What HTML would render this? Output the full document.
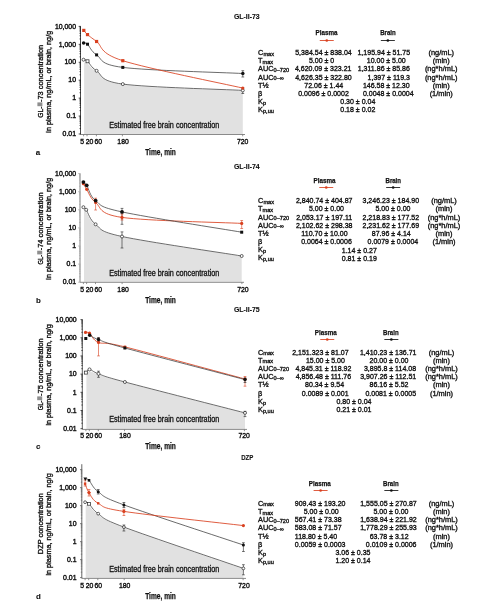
<!DOCTYPE html>
<html><head><meta charset="utf-8"><style>
html,body{margin:0;padding:0;background:#fff;}
body{width:496px;height:615px;overflow:hidden;}
svg{display:block;font-family:"Liberation Sans", sans-serif;will-change:transform;}
</style></head><body>
<svg width="496" height="615" viewBox="0 0 496 615">
<rect width="496" height="615" fill="#fff"/>
<path d="M84.10,62.70 C84.67,62.83 85.42,62.02 87.50,63.50 C89.58,64.98 90.72,68.07 96.60,71.60 C102.48,75.13 98.43,81.48 122.80,84.70 C147.17,87.92 222.80,89.87 242.80,90.90 L242.80,134.00 L84.10,134.00 Z" fill="#e1e1e1" stroke="none"/>
<line x1="80.50" y1="26.40" x2="80.50" y2="134.50" stroke="#4a4a4a" stroke-width="1.00"/>
<line x1="80.50" y1="134.50" x2="245.00" y2="134.50" stroke="#8a8a8a" stroke-width="1"/>
<line x1="78.70" y1="26.40" x2="80.90" y2="26.40" stroke="#1a1a1a" stroke-width="0.8"/>
<line x1="79.50" y1="38.93" x2="80.90" y2="38.93" stroke="#1a1a1a" stroke-width="0.7"/>
<line x1="79.50" y1="35.78" x2="80.90" y2="35.78" stroke="#1a1a1a" stroke-width="0.7"/>
<line x1="79.50" y1="33.54" x2="80.90" y2="33.54" stroke="#1a1a1a" stroke-width="0.7"/>
<line x1="79.50" y1="31.80" x2="80.90" y2="31.80" stroke="#1a1a1a" stroke-width="0.7"/>
<line x1="79.50" y1="30.38" x2="80.90" y2="30.38" stroke="#1a1a1a" stroke-width="0.7"/>
<line x1="79.50" y1="29.18" x2="80.90" y2="29.18" stroke="#1a1a1a" stroke-width="0.7"/>
<line x1="79.50" y1="28.14" x2="80.90" y2="28.14" stroke="#1a1a1a" stroke-width="0.7"/>
<line x1="79.50" y1="27.22" x2="80.90" y2="27.22" stroke="#1a1a1a" stroke-width="0.7"/>
<line x1="78.70" y1="44.33" x2="80.90" y2="44.33" stroke="#1a1a1a" stroke-width="0.8"/>
<line x1="79.50" y1="56.86" x2="80.90" y2="56.86" stroke="#1a1a1a" stroke-width="0.7"/>
<line x1="79.50" y1="53.71" x2="80.90" y2="53.71" stroke="#1a1a1a" stroke-width="0.7"/>
<line x1="79.50" y1="51.47" x2="80.90" y2="51.47" stroke="#1a1a1a" stroke-width="0.7"/>
<line x1="79.50" y1="49.73" x2="80.90" y2="49.73" stroke="#1a1a1a" stroke-width="0.7"/>
<line x1="79.50" y1="48.31" x2="80.90" y2="48.31" stroke="#1a1a1a" stroke-width="0.7"/>
<line x1="79.50" y1="47.11" x2="80.90" y2="47.11" stroke="#1a1a1a" stroke-width="0.7"/>
<line x1="79.50" y1="46.07" x2="80.90" y2="46.07" stroke="#1a1a1a" stroke-width="0.7"/>
<line x1="79.50" y1="45.15" x2="80.90" y2="45.15" stroke="#1a1a1a" stroke-width="0.7"/>
<line x1="78.70" y1="62.26" x2="80.90" y2="62.26" stroke="#1a1a1a" stroke-width="0.8"/>
<line x1="79.50" y1="74.79" x2="80.90" y2="74.79" stroke="#1a1a1a" stroke-width="0.7"/>
<line x1="79.50" y1="71.64" x2="80.90" y2="71.64" stroke="#1a1a1a" stroke-width="0.7"/>
<line x1="79.50" y1="69.40" x2="80.90" y2="69.40" stroke="#1a1a1a" stroke-width="0.7"/>
<line x1="79.50" y1="67.66" x2="80.90" y2="67.66" stroke="#1a1a1a" stroke-width="0.7"/>
<line x1="79.50" y1="66.24" x2="80.90" y2="66.24" stroke="#1a1a1a" stroke-width="0.7"/>
<line x1="79.50" y1="65.04" x2="80.90" y2="65.04" stroke="#1a1a1a" stroke-width="0.7"/>
<line x1="79.50" y1="64.00" x2="80.90" y2="64.00" stroke="#1a1a1a" stroke-width="0.7"/>
<line x1="79.50" y1="63.08" x2="80.90" y2="63.08" stroke="#1a1a1a" stroke-width="0.7"/>
<line x1="78.70" y1="80.19" x2="80.90" y2="80.19" stroke="#1a1a1a" stroke-width="0.8"/>
<line x1="79.50" y1="92.72" x2="80.90" y2="92.72" stroke="#1a1a1a" stroke-width="0.7"/>
<line x1="79.50" y1="89.57" x2="80.90" y2="89.57" stroke="#1a1a1a" stroke-width="0.7"/>
<line x1="79.50" y1="87.33" x2="80.90" y2="87.33" stroke="#1a1a1a" stroke-width="0.7"/>
<line x1="79.50" y1="85.59" x2="80.90" y2="85.59" stroke="#1a1a1a" stroke-width="0.7"/>
<line x1="79.50" y1="84.17" x2="80.90" y2="84.17" stroke="#1a1a1a" stroke-width="0.7"/>
<line x1="79.50" y1="82.97" x2="80.90" y2="82.97" stroke="#1a1a1a" stroke-width="0.7"/>
<line x1="79.50" y1="81.93" x2="80.90" y2="81.93" stroke="#1a1a1a" stroke-width="0.7"/>
<line x1="79.50" y1="81.01" x2="80.90" y2="81.01" stroke="#1a1a1a" stroke-width="0.7"/>
<line x1="78.70" y1="98.12" x2="80.90" y2="98.12" stroke="#1a1a1a" stroke-width="0.8"/>
<line x1="79.50" y1="110.65" x2="80.90" y2="110.65" stroke="#1a1a1a" stroke-width="0.7"/>
<line x1="79.50" y1="107.50" x2="80.90" y2="107.50" stroke="#1a1a1a" stroke-width="0.7"/>
<line x1="79.50" y1="105.26" x2="80.90" y2="105.26" stroke="#1a1a1a" stroke-width="0.7"/>
<line x1="79.50" y1="103.52" x2="80.90" y2="103.52" stroke="#1a1a1a" stroke-width="0.7"/>
<line x1="79.50" y1="102.10" x2="80.90" y2="102.10" stroke="#1a1a1a" stroke-width="0.7"/>
<line x1="79.50" y1="100.90" x2="80.90" y2="100.90" stroke="#1a1a1a" stroke-width="0.7"/>
<line x1="79.50" y1="99.86" x2="80.90" y2="99.86" stroke="#1a1a1a" stroke-width="0.7"/>
<line x1="79.50" y1="98.94" x2="80.90" y2="98.94" stroke="#1a1a1a" stroke-width="0.7"/>
<line x1="78.70" y1="116.05" x2="80.90" y2="116.05" stroke="#1a1a1a" stroke-width="0.8"/>
<line x1="79.50" y1="128.58" x2="80.90" y2="128.58" stroke="#1a1a1a" stroke-width="0.7"/>
<line x1="79.50" y1="125.43" x2="80.90" y2="125.43" stroke="#1a1a1a" stroke-width="0.7"/>
<line x1="79.50" y1="123.19" x2="80.90" y2="123.19" stroke="#1a1a1a" stroke-width="0.7"/>
<line x1="79.50" y1="121.45" x2="80.90" y2="121.45" stroke="#1a1a1a" stroke-width="0.7"/>
<line x1="79.50" y1="120.03" x2="80.90" y2="120.03" stroke="#1a1a1a" stroke-width="0.7"/>
<line x1="79.50" y1="118.83" x2="80.90" y2="118.83" stroke="#1a1a1a" stroke-width="0.7"/>
<line x1="79.50" y1="117.79" x2="80.90" y2="117.79" stroke="#1a1a1a" stroke-width="0.7"/>
<line x1="79.50" y1="116.87" x2="80.90" y2="116.87" stroke="#1a1a1a" stroke-width="0.7"/>
<line x1="78.70" y1="133.98" x2="80.90" y2="133.98" stroke="#1a1a1a" stroke-width="0.8"/>
<text x="76.00" y="28.60" font-size="6.90" text-anchor="end" font-weight="normal" fill="#111" stroke="#111" stroke-width="0.40" textLength="21.10" lengthAdjust="spacingAndGlyphs">10,000</text>
<text x="76.00" y="46.53" font-size="6.90" text-anchor="end" font-weight="normal" fill="#111" stroke="#111" stroke-width="0.40" textLength="17.27" lengthAdjust="spacingAndGlyphs">1,000</text>
<text x="76.00" y="64.46" font-size="6.90" text-anchor="end" font-weight="normal" fill="#111" stroke="#111" stroke-width="0.40" textLength="11.51" lengthAdjust="spacingAndGlyphs">100</text>
<text x="76.00" y="82.39" font-size="6.90" text-anchor="end" font-weight="normal" fill="#111" stroke="#111" stroke-width="0.40" textLength="7.67" lengthAdjust="spacingAndGlyphs">10</text>
<text x="76.00" y="100.32" font-size="6.90" text-anchor="end" font-weight="normal" fill="#111" stroke="#111" stroke-width="0.40" textLength="3.84" lengthAdjust="spacingAndGlyphs">1</text>
<text x="76.00" y="118.25" font-size="6.90" text-anchor="end" font-weight="normal" fill="#111" stroke="#111" stroke-width="0.40" textLength="9.59" lengthAdjust="spacingAndGlyphs">0.1</text>
<text x="76.00" y="136.18" font-size="6.90" text-anchor="end" font-weight="normal" fill="#111" stroke="#111" stroke-width="0.40" textLength="13.43" lengthAdjust="spacingAndGlyphs">0.01</text>
<line x1="83.60" y1="134.50" x2="83.60" y2="136.30" stroke="#777" stroke-width="0.8"/>
<line x1="87.00" y1="134.50" x2="87.00" y2="136.30" stroke="#777" stroke-width="0.8"/>
<line x1="96.40" y1="134.50" x2="96.40" y2="136.30" stroke="#777" stroke-width="0.8"/>
<line x1="122.40" y1="134.50" x2="122.40" y2="136.30" stroke="#777" stroke-width="0.8"/>
<line x1="242.70" y1="134.50" x2="242.70" y2="136.30" stroke="#777" stroke-width="0.8"/>
<text x="82.05" y="143.80" font-size="7.60" text-anchor="middle" font-weight="normal" fill="#111" stroke="#111" stroke-width="0.40" textLength="3.80" lengthAdjust="spacingAndGlyphs">5</text>
<text x="89.55" y="143.80" font-size="7.60" text-anchor="middle" font-weight="normal" fill="#111" stroke="#111" stroke-width="0.40" textLength="7.61" lengthAdjust="spacingAndGlyphs">20</text>
<text x="98.30" y="143.80" font-size="7.60" text-anchor="middle" font-weight="normal" fill="#111" stroke="#111" stroke-width="0.40" textLength="7.61" lengthAdjust="spacingAndGlyphs">60</text>
<text x="123.05" y="143.80" font-size="7.60" text-anchor="middle" font-weight="normal" fill="#111" stroke="#111" stroke-width="0.40" textLength="11.41" lengthAdjust="spacingAndGlyphs">180</text>
<text x="242.70" y="143.80" font-size="7.60" text-anchor="middle" font-weight="normal" fill="#111" stroke="#111" stroke-width="0.40" textLength="11.41" lengthAdjust="spacingAndGlyphs">720</text>
<path d="M83.50,59.70 C84.17,59.97 85.32,59.45 87.50,61.30 C89.68,63.15 90.72,67.00 96.60,70.80 C102.48,74.60 98.43,80.83 122.80,84.10 C147.17,87.37 222.80,89.35 242.80,90.40" fill="none" stroke="#3a3a3a" stroke-width="0.75"/>
<path d="M83.60,43.10 C84.25,43.28 85.33,42.23 87.50,44.20 C89.67,46.17 90.72,51.03 96.60,54.90 C102.48,58.77 98.43,64.30 122.80,67.40 C147.17,70.50 222.80,72.48 242.80,73.50" fill="none" stroke="#3a3a3a" stroke-width="0.75"/>
<path d="M83.80,30.40 C84.42,31.10 85.37,32.75 87.50,34.60 C89.63,36.45 90.72,37.15 96.60,41.50 C102.48,45.85 98.43,52.93 122.80,60.70 C147.17,68.47 222.80,83.53 242.80,88.10" fill="none" stroke="#d9401f" stroke-width="0.85"/>
<path d="M242.80,70.70 V77.00 M241.40,70.70 H244.20 M241.40,77.00 H244.20" stroke="#222" stroke-width="0.6" fill="none"/>
<path d="M242.80,88.00 V93.50 M241.40,88.00 H244.20 M241.40,93.50 H244.20" stroke="#222" stroke-width="0.6" fill="none"/>
<circle cx="83.50" cy="59.70" r="1.50" fill="#fff" stroke="#222" stroke-width="0.7"/>
<rect x="86.00" y="59.80" width="3.00" height="3.00" fill="#fff" stroke="#222" stroke-width="0.7"/>
<circle cx="96.60" cy="70.80" r="1.50" fill="#fff" stroke="#222" stroke-width="0.7"/>
<circle cx="122.80" cy="84.10" r="1.50" fill="#fff" stroke="#222" stroke-width="0.7"/>
<circle cx="242.80" cy="90.40" r="1.50" fill="#fff" stroke="#222" stroke-width="0.7"/>
<circle cx="83.60" cy="43.10" r="1.75" fill="#111"/>
<rect x="86.00" y="42.70" width="3.00" height="3.00" fill="#111"/>
<rect x="95.10" y="53.40" width="3.00" height="3.00" fill="#111"/>
<rect x="121.30" y="65.90" width="3.00" height="3.00" fill="#111"/>
<circle cx="242.80" cy="73.50" r="1.75" fill="#111"/>
<rect x="82.20" y="28.80" width="3.20" height="3.20" fill="#d9401f"/>
<rect x="85.90" y="33.00" width="3.20" height="3.20" fill="#d9401f"/>
<rect x="95.00" y="39.90" width="3.20" height="3.20" fill="#d9401f"/>
<rect x="121.20" y="59.10" width="3.20" height="3.20" fill="#d9401f"/>
<circle cx="242.80" cy="88.10" r="1.60" fill="#d9401f"/>
<text x="109.20" y="127.80" font-size="8.40" text-anchor="start" font-weight="normal" fill="#111" stroke="#111" stroke-width="0.30" textLength="110.10" lengthAdjust="spacingAndGlyphs">Estimated free brain concentration</text>
<text x="145.20" y="154.90" font-size="8.50" text-anchor="start" font-weight="bold" fill="#111" stroke="#111" stroke-width="0.25" textLength="30.70" lengthAdjust="spacingAndGlyphs">Time, min</text>
<text x="35.80" y="154.60" font-size="7.90" text-anchor="start" font-weight="bold" fill="#111" stroke="#111" stroke-width="0.10">a</text>
<text x="233.90" y="19.30" font-size="7.60" text-anchor="start" font-weight="bold" fill="#111" stroke="#111" stroke-width="0.12" textLength="25.80" lengthAdjust="spacingAndGlyphs">GL-II-73</text>
<text transform="translate(43.10,117.80) rotate(-90)" font-size="7.80" fill="#111" stroke="#111" stroke-width="0.35" textLength="11.20" lengthAdjust="spacingAndGlyphs">GL-</text>
<rect x="37.40" y="102.40" width="5.00" height="3.80" fill="#8e8e8e"/>
<text transform="translate(43.10,102.00) rotate(-90)" font-size="7.80" fill="#111" stroke="#111" stroke-width="0.35" textLength="57.20" lengthAdjust="spacingAndGlyphs">-73 concentration</text>
<text transform="translate(50.70,132.70) rotate(-90)" font-size="7.80" fill="#111" stroke="#111" stroke-width="0.35" textLength="101.90" lengthAdjust="spacingAndGlyphs">in plasma, ng/mL, or brain, ng/g</text>
<text x="258.10" y="55.00" font-size="7.35" text-anchor="start" font-weight="normal" fill="#111" stroke="#111" stroke-width="0.34">C<tspan font-size="5.60" dy="0.50">max</tspan></text>
<text x="258.10" y="63.20" font-size="7.35" text-anchor="start" font-weight="normal" fill="#111" stroke="#111" stroke-width="0.34">T<tspan font-size="5.60" dy="0.50">max</tspan></text>
<text x="258.10" y="71.40" font-size="7.35" text-anchor="start" font-weight="normal" fill="#111" stroke="#111" stroke-width="0.34">AUC<tspan font-size="5.60" dy="0.50">0–720</tspan></text>
<text x="258.10" y="79.60" font-size="7.35" text-anchor="start" font-weight="normal" fill="#111" stroke="#111" stroke-width="0.34">AUC<tspan font-size="5.60" dy="0.50">0–∞</tspan></text>
<text x="258.10" y="87.80" font-size="7.35" text-anchor="start" font-weight="normal" fill="#111" stroke="#111" stroke-width="0.34">T½</text>
<text x="258.10" y="96.00" font-size="7.35" text-anchor="start" font-weight="normal" fill="#111" stroke="#111" stroke-width="0.34">β</text>
<text x="258.10" y="104.20" font-size="7.35" text-anchor="start" font-weight="normal" fill="#111" stroke="#111" stroke-width="0.34">K<tspan font-size="5.60" dy="0.90">p</tspan></text>
<text x="258.10" y="112.40" font-size="7.35" text-anchor="start" font-weight="normal" fill="#111" stroke="#111" stroke-width="0.34">K<tspan font-size="5.60" dy="0.90">p,uu</tspan></text>
<text x="323.50" y="55.00" font-size="7.35" text-anchor="middle" font-weight="normal" fill="#111" stroke="#111" stroke-width="0.34" textLength="56.54" lengthAdjust="spacingAndGlyphs">5,384.54 ± 838.04</text>
<text x="321.60" y="63.20" font-size="7.35" text-anchor="middle" font-weight="normal" fill="#111" stroke="#111" stroke-width="0.34" textLength="25.32" lengthAdjust="spacingAndGlyphs">5.00 ± 0</text>
<text x="323.20" y="71.40" font-size="7.35" text-anchor="middle" font-weight="normal" fill="#111" stroke="#111" stroke-width="0.34" textLength="56.54" lengthAdjust="spacingAndGlyphs">4,620.09 ± 323.21</text>
<text x="323.50" y="79.60" font-size="7.35" text-anchor="middle" font-weight="normal" fill="#111" stroke="#111" stroke-width="0.34" textLength="56.54" lengthAdjust="spacingAndGlyphs">4,626.35 ± 322.80</text>
<text x="323.80" y="87.80" font-size="7.35" text-anchor="middle" font-weight="normal" fill="#111" stroke="#111" stroke-width="0.34" textLength="38.98" lengthAdjust="spacingAndGlyphs">72.06 ± 1.44</text>
<text x="323.50" y="96.00" font-size="7.35" text-anchor="middle" font-weight="normal" fill="#111" stroke="#111" stroke-width="0.34" textLength="50.69" lengthAdjust="spacingAndGlyphs">0.0096 ± 0.0002</text>
<text x="383.80" y="55.00" font-size="7.35" text-anchor="middle" font-weight="normal" fill="#111" stroke="#111" stroke-width="0.34" textLength="52.64" lengthAdjust="spacingAndGlyphs">1,195.94 ± 51.75</text>
<text x="386.30" y="63.20" font-size="7.35" text-anchor="middle" font-weight="normal" fill="#111" stroke="#111" stroke-width="0.34" textLength="38.98" lengthAdjust="spacingAndGlyphs">10.00 ± 5.00</text>
<text x="383.80" y="71.40" font-size="7.35" text-anchor="middle" font-weight="normal" fill="#111" stroke="#111" stroke-width="0.34" textLength="52.12" lengthAdjust="spacingAndGlyphs">1,311.86 ± 85.86</text>
<text x="388.80" y="79.60" font-size="7.35" text-anchor="middle" font-weight="normal" fill="#111" stroke="#111" stroke-width="0.34" textLength="42.36" lengthAdjust="spacingAndGlyphs">1,397 ± 119.3</text>
<text x="386.30" y="87.80" font-size="7.35" text-anchor="middle" font-weight="normal" fill="#111" stroke="#111" stroke-width="0.34" textLength="46.79" lengthAdjust="spacingAndGlyphs">146.58 ± 12.30</text>
<text x="388.30" y="96.00" font-size="7.35" text-anchor="middle" font-weight="normal" fill="#111" stroke="#111" stroke-width="0.34" textLength="50.69" lengthAdjust="spacingAndGlyphs">0.0048 ± 0.0004</text>
<text x="441.20" y="55.00" font-size="7.35" text-anchor="middle" font-weight="normal" fill="#111" stroke="#111" stroke-width="0.34" textLength="25.58" lengthAdjust="spacingAndGlyphs">(ng/mL)</text>
<text x="441.20" y="63.20" font-size="7.35" text-anchor="middle" font-weight="normal" fill="#111" stroke="#111" stroke-width="0.34" textLength="16.91" lengthAdjust="spacingAndGlyphs">(min)</text>
<text x="441.20" y="71.40" font-size="7.35" text-anchor="middle" font-weight="normal" fill="#111" stroke="#111" stroke-width="0.34" textLength="32.59" lengthAdjust="spacingAndGlyphs">(ng*h/mL)</text>
<text x="441.20" y="79.60" font-size="7.35" text-anchor="middle" font-weight="normal" fill="#111" stroke="#111" stroke-width="0.34" textLength="32.59" lengthAdjust="spacingAndGlyphs">(ng*h/mL)</text>
<text x="441.20" y="87.80" font-size="7.35" text-anchor="middle" font-weight="normal" fill="#111" stroke="#111" stroke-width="0.34" textLength="16.91" lengthAdjust="spacingAndGlyphs">(min)</text>
<text x="441.20" y="96.00" font-size="7.35" text-anchor="middle" font-weight="normal" fill="#111" stroke="#111" stroke-width="0.34" textLength="23.10" lengthAdjust="spacingAndGlyphs">(1/min)</text>
<text x="357.80" y="104.20" font-size="7.35" text-anchor="middle" font-weight="normal" fill="#111" stroke="#111" stroke-width="0.34" textLength="35.08" lengthAdjust="spacingAndGlyphs">0.30 ± 0.04</text>
<text x="357.80" y="112.40" font-size="7.35" text-anchor="middle" font-weight="normal" fill="#111" stroke="#111" stroke-width="0.34" textLength="35.08" lengthAdjust="spacingAndGlyphs">0.18 ± 0.02</text>
<text x="326.60" y="35.10" font-size="7.30" text-anchor="middle" font-weight="bold" fill="#111" stroke="#111" stroke-width="0.25" textLength="22.00" lengthAdjust="spacingAndGlyphs">Plasma</text>
<text x="387.95" y="35.10" font-size="7.30" text-anchor="middle" font-weight="bold" fill="#111" stroke="#111" stroke-width="0.25" textLength="15.50" lengthAdjust="spacingAndGlyphs">Brain</text>
<line x1="319.75" y1="40.50" x2="333.75" y2="40.50" stroke="#d9401f" stroke-width="0.85"/>
<circle cx="326.75" cy="40.50" r="1.3" fill="#d9401f"/>
<line x1="380.85" y1="40.50" x2="394.85" y2="40.50" stroke="#111" stroke-width="0.85"/>
<circle cx="387.85" cy="40.50" r="1.3" fill="#111"/>
<path d="M84.00,210.20 C84.37,210.50 84.27,209.52 86.20,212.00 C88.13,214.48 89.63,220.92 95.60,225.10 C101.57,229.28 97.65,231.87 122.00,237.10 C146.35,242.33 221.75,253.27 241.70,256.50 L241.70,281.80 L84.00,281.80 Z" fill="#e1e1e1" stroke="none"/>
<line x1="80.00" y1="173.60" x2="80.00" y2="282.30" stroke="#a8a8a8" stroke-width="1.40"/>
<line x1="80.00" y1="282.30" x2="244.00" y2="282.30" stroke="#8a8a8a" stroke-width="1"/>
<line x1="78.20" y1="173.60" x2="80.40" y2="173.60" stroke="#a8a8a8" stroke-width="0.8"/>
<line x1="79.00" y1="186.25" x2="80.40" y2="186.25" stroke="#a8a8a8" stroke-width="0.7"/>
<line x1="79.00" y1="183.06" x2="80.40" y2="183.06" stroke="#a8a8a8" stroke-width="0.7"/>
<line x1="79.00" y1="180.80" x2="80.40" y2="180.80" stroke="#a8a8a8" stroke-width="0.7"/>
<line x1="79.00" y1="179.05" x2="80.40" y2="179.05" stroke="#a8a8a8" stroke-width="0.7"/>
<line x1="79.00" y1="177.62" x2="80.40" y2="177.62" stroke="#a8a8a8" stroke-width="0.7"/>
<line x1="79.00" y1="176.40" x2="80.40" y2="176.40" stroke="#a8a8a8" stroke-width="0.7"/>
<line x1="79.00" y1="175.35" x2="80.40" y2="175.35" stroke="#a8a8a8" stroke-width="0.7"/>
<line x1="79.00" y1="174.43" x2="80.40" y2="174.43" stroke="#a8a8a8" stroke-width="0.7"/>
<line x1="78.20" y1="191.70" x2="80.40" y2="191.70" stroke="#a8a8a8" stroke-width="0.8"/>
<line x1="79.00" y1="204.35" x2="80.40" y2="204.35" stroke="#a8a8a8" stroke-width="0.7"/>
<line x1="79.00" y1="201.16" x2="80.40" y2="201.16" stroke="#a8a8a8" stroke-width="0.7"/>
<line x1="79.00" y1="198.90" x2="80.40" y2="198.90" stroke="#a8a8a8" stroke-width="0.7"/>
<line x1="79.00" y1="197.15" x2="80.40" y2="197.15" stroke="#a8a8a8" stroke-width="0.7"/>
<line x1="79.00" y1="195.72" x2="80.40" y2="195.72" stroke="#a8a8a8" stroke-width="0.7"/>
<line x1="79.00" y1="194.50" x2="80.40" y2="194.50" stroke="#a8a8a8" stroke-width="0.7"/>
<line x1="79.00" y1="193.45" x2="80.40" y2="193.45" stroke="#a8a8a8" stroke-width="0.7"/>
<line x1="79.00" y1="192.53" x2="80.40" y2="192.53" stroke="#a8a8a8" stroke-width="0.7"/>
<line x1="78.20" y1="209.80" x2="80.40" y2="209.80" stroke="#a8a8a8" stroke-width="0.8"/>
<line x1="79.00" y1="222.45" x2="80.40" y2="222.45" stroke="#a8a8a8" stroke-width="0.7"/>
<line x1="79.00" y1="219.26" x2="80.40" y2="219.26" stroke="#a8a8a8" stroke-width="0.7"/>
<line x1="79.00" y1="217.00" x2="80.40" y2="217.00" stroke="#a8a8a8" stroke-width="0.7"/>
<line x1="79.00" y1="215.25" x2="80.40" y2="215.25" stroke="#a8a8a8" stroke-width="0.7"/>
<line x1="79.00" y1="213.82" x2="80.40" y2="213.82" stroke="#a8a8a8" stroke-width="0.7"/>
<line x1="79.00" y1="212.60" x2="80.40" y2="212.60" stroke="#a8a8a8" stroke-width="0.7"/>
<line x1="79.00" y1="211.55" x2="80.40" y2="211.55" stroke="#a8a8a8" stroke-width="0.7"/>
<line x1="79.00" y1="210.63" x2="80.40" y2="210.63" stroke="#a8a8a8" stroke-width="0.7"/>
<line x1="78.20" y1="227.90" x2="80.40" y2="227.90" stroke="#a8a8a8" stroke-width="0.8"/>
<line x1="79.00" y1="240.55" x2="80.40" y2="240.55" stroke="#a8a8a8" stroke-width="0.7"/>
<line x1="79.00" y1="237.36" x2="80.40" y2="237.36" stroke="#a8a8a8" stroke-width="0.7"/>
<line x1="79.00" y1="235.10" x2="80.40" y2="235.10" stroke="#a8a8a8" stroke-width="0.7"/>
<line x1="79.00" y1="233.35" x2="80.40" y2="233.35" stroke="#a8a8a8" stroke-width="0.7"/>
<line x1="79.00" y1="231.92" x2="80.40" y2="231.92" stroke="#a8a8a8" stroke-width="0.7"/>
<line x1="79.00" y1="230.70" x2="80.40" y2="230.70" stroke="#a8a8a8" stroke-width="0.7"/>
<line x1="79.00" y1="229.65" x2="80.40" y2="229.65" stroke="#a8a8a8" stroke-width="0.7"/>
<line x1="79.00" y1="228.73" x2="80.40" y2="228.73" stroke="#a8a8a8" stroke-width="0.7"/>
<line x1="78.20" y1="246.00" x2="80.40" y2="246.00" stroke="#a8a8a8" stroke-width="0.8"/>
<line x1="79.00" y1="258.65" x2="80.40" y2="258.65" stroke="#a8a8a8" stroke-width="0.7"/>
<line x1="79.00" y1="255.46" x2="80.40" y2="255.46" stroke="#a8a8a8" stroke-width="0.7"/>
<line x1="79.00" y1="253.20" x2="80.40" y2="253.20" stroke="#a8a8a8" stroke-width="0.7"/>
<line x1="79.00" y1="251.45" x2="80.40" y2="251.45" stroke="#a8a8a8" stroke-width="0.7"/>
<line x1="79.00" y1="250.02" x2="80.40" y2="250.02" stroke="#a8a8a8" stroke-width="0.7"/>
<line x1="79.00" y1="248.80" x2="80.40" y2="248.80" stroke="#a8a8a8" stroke-width="0.7"/>
<line x1="79.00" y1="247.75" x2="80.40" y2="247.75" stroke="#a8a8a8" stroke-width="0.7"/>
<line x1="79.00" y1="246.83" x2="80.40" y2="246.83" stroke="#a8a8a8" stroke-width="0.7"/>
<line x1="78.20" y1="264.10" x2="80.40" y2="264.10" stroke="#a8a8a8" stroke-width="0.8"/>
<line x1="79.00" y1="276.75" x2="80.40" y2="276.75" stroke="#a8a8a8" stroke-width="0.7"/>
<line x1="79.00" y1="273.56" x2="80.40" y2="273.56" stroke="#a8a8a8" stroke-width="0.7"/>
<line x1="79.00" y1="271.30" x2="80.40" y2="271.30" stroke="#a8a8a8" stroke-width="0.7"/>
<line x1="79.00" y1="269.55" x2="80.40" y2="269.55" stroke="#a8a8a8" stroke-width="0.7"/>
<line x1="79.00" y1="268.12" x2="80.40" y2="268.12" stroke="#a8a8a8" stroke-width="0.7"/>
<line x1="79.00" y1="266.90" x2="80.40" y2="266.90" stroke="#a8a8a8" stroke-width="0.7"/>
<line x1="79.00" y1="265.85" x2="80.40" y2="265.85" stroke="#a8a8a8" stroke-width="0.7"/>
<line x1="79.00" y1="264.93" x2="80.40" y2="264.93" stroke="#a8a8a8" stroke-width="0.7"/>
<line x1="78.20" y1="282.20" x2="80.40" y2="282.20" stroke="#a8a8a8" stroke-width="0.8"/>
<text x="76.20" y="175.80" font-size="6.90" text-anchor="end" font-weight="normal" fill="#111" stroke="#111" stroke-width="0.40" textLength="21.10" lengthAdjust="spacingAndGlyphs">10,000</text>
<text x="76.20" y="193.90" font-size="6.90" text-anchor="end" font-weight="normal" fill="#111" stroke="#111" stroke-width="0.40" textLength="17.27" lengthAdjust="spacingAndGlyphs">1,000</text>
<text x="76.20" y="212.00" font-size="6.90" text-anchor="end" font-weight="normal" fill="#111" stroke="#111" stroke-width="0.40" textLength="11.51" lengthAdjust="spacingAndGlyphs">100</text>
<text x="76.20" y="230.10" font-size="6.90" text-anchor="end" font-weight="normal" fill="#111" stroke="#111" stroke-width="0.40" textLength="7.67" lengthAdjust="spacingAndGlyphs">10</text>
<text x="76.20" y="248.20" font-size="6.90" text-anchor="end" font-weight="normal" fill="#111" stroke="#111" stroke-width="0.40" textLength="3.84" lengthAdjust="spacingAndGlyphs">1</text>
<text x="76.20" y="266.30" font-size="6.90" text-anchor="end" font-weight="normal" fill="#111" stroke="#111" stroke-width="0.40" textLength="9.59" lengthAdjust="spacingAndGlyphs">0.1</text>
<text x="76.20" y="284.40" font-size="6.90" text-anchor="end" font-weight="normal" fill="#111" stroke="#111" stroke-width="0.40" textLength="13.43" lengthAdjust="spacingAndGlyphs">0.01</text>
<line x1="83.40" y1="282.30" x2="83.40" y2="284.10" stroke="#777" stroke-width="0.8"/>
<line x1="86.60" y1="282.30" x2="86.60" y2="284.10" stroke="#777" stroke-width="0.8"/>
<line x1="95.50" y1="282.30" x2="95.50" y2="284.10" stroke="#777" stroke-width="0.8"/>
<line x1="122.10" y1="282.30" x2="122.10" y2="284.10" stroke="#777" stroke-width="0.8"/>
<line x1="241.90" y1="282.30" x2="241.90" y2="284.10" stroke="#777" stroke-width="0.8"/>
<text x="82.05" y="291.50" font-size="7.60" text-anchor="middle" font-weight="normal" fill="#111" stroke="#111" stroke-width="0.40" textLength="3.80" lengthAdjust="spacingAndGlyphs">5</text>
<text x="89.55" y="291.50" font-size="7.60" text-anchor="middle" font-weight="normal" fill="#111" stroke="#111" stroke-width="0.40" textLength="7.61" lengthAdjust="spacingAndGlyphs">20</text>
<text x="98.30" y="291.50" font-size="7.60" text-anchor="middle" font-weight="normal" fill="#111" stroke="#111" stroke-width="0.40" textLength="7.61" lengthAdjust="spacingAndGlyphs">60</text>
<text x="123.05" y="291.50" font-size="7.60" text-anchor="middle" font-weight="normal" fill="#111" stroke="#111" stroke-width="0.40" textLength="11.41" lengthAdjust="spacingAndGlyphs">180</text>
<text x="242.90" y="291.50" font-size="7.60" text-anchor="middle" font-weight="normal" fill="#111" stroke="#111" stroke-width="0.40" textLength="11.41" lengthAdjust="spacingAndGlyphs">720</text>
<path d="M83.40,207.20 C83.87,207.63 84.17,206.95 86.20,209.80 C88.23,212.65 89.63,219.85 95.60,224.30 C101.57,228.75 97.65,231.22 122.00,236.50 C146.35,241.78 221.75,252.75 241.70,256.00" fill="none" stroke="#3a3a3a" stroke-width="0.75"/>
<path d="M83.40,183.70 C83.95,184.63 84.67,186.17 86.70,189.30 C88.73,192.43 89.72,197.82 95.60,202.50 C101.48,207.18 97.65,213.92 122.00,217.40 C146.35,220.88 221.75,222.40 241.70,223.40" fill="none" stroke="#d9401f" stroke-width="0.85"/>
<path d="M83.40,182.10 C83.95,182.63 84.67,182.22 86.70,185.30 C88.73,188.38 89.72,196.17 95.60,200.60 C101.48,205.03 97.65,206.63 122.00,211.90 C146.35,217.17 221.75,228.82 241.70,232.20" fill="none" stroke="#3a3a3a" stroke-width="0.75"/>
<path d="M95.60,198.20 V210.00 M94.20,198.20 H97.00 M94.20,210.00 H97.00" stroke="#d9401f" stroke-width="0.6" fill="none"/>
<path d="M122.00,208.40 V224.30 M120.60,208.40 H123.40 M120.60,224.30 H123.40" stroke="#222" stroke-width="0.6" fill="none"/>
<path d="M122.00,214.00 V220.00 M120.60,214.00 H123.40 M120.60,220.00 H123.40" stroke="#d9401f" stroke-width="0.6" fill="none"/>
<path d="M122.00,231.90 V248.00 M120.60,231.90 H123.40 M120.60,248.00 H123.40" stroke="#222" stroke-width="0.6" fill="none"/>
<path d="M241.70,220.50 V228.50 M240.30,220.50 H243.10 M240.30,228.50 H243.10" stroke="#d9401f" stroke-width="0.6" fill="none"/>
<circle cx="83.40" cy="207.20" r="1.50" fill="#fff" stroke="#222" stroke-width="0.7"/>
<circle cx="86.20" cy="209.80" r="1.50" fill="#fff" stroke="#222" stroke-width="0.7"/>
<circle cx="95.60" cy="224.30" r="1.50" fill="#fff" stroke="#222" stroke-width="0.7"/>
<circle cx="122.00" cy="236.50" r="1.50" fill="#fff" stroke="#222" stroke-width="0.7"/>
<circle cx="241.70" cy="256.00" r="1.50" fill="#fff" stroke="#222" stroke-width="0.7"/>
<circle cx="83.40" cy="183.70" r="1.60" fill="#d9401f"/>
<circle cx="86.70" cy="189.30" r="1.60" fill="#d9401f"/>
<circle cx="95.60" cy="202.50" r="1.60" fill="#d9401f"/>
<circle cx="122.00" cy="217.40" r="1.60" fill="#d9401f"/>
<circle cx="241.70" cy="223.40" r="1.60" fill="#d9401f"/>
<circle cx="83.40" cy="182.10" r="1.90" fill="#111"/>
<circle cx="86.70" cy="185.30" r="1.90" fill="#111"/>
<circle cx="95.60" cy="200.60" r="1.90" fill="#111"/>
<circle cx="122.00" cy="211.90" r="1.90" fill="#111"/>
<rect x="240.20" y="230.70" width="3.00" height="3.00" fill="#111"/>
<text x="109.20" y="275.80" font-size="8.40" text-anchor="start" font-weight="normal" fill="#111" stroke="#111" stroke-width="0.30" textLength="110.10" lengthAdjust="spacingAndGlyphs">Estimated free brain concentration</text>
<text x="145.20" y="302.90" font-size="8.50" text-anchor="start" font-weight="bold" fill="#111" stroke="#111" stroke-width="0.25" textLength="30.70" lengthAdjust="spacingAndGlyphs">Time, min</text>
<text x="35.90" y="302.70" font-size="7.90" text-anchor="start" font-weight="bold" fill="#111" stroke="#111" stroke-width="0.10">b</text>
<text x="233.90" y="169.30" font-size="7.60" text-anchor="start" font-weight="bold" fill="#111" stroke="#111" stroke-width="0.12" textLength="25.80" lengthAdjust="spacingAndGlyphs">GL-II-74</text>
<text transform="translate(42.90,264.50) rotate(-90)" font-size="7.80" fill="#111" stroke="#111" stroke-width="0.35" textLength="9.70" lengthAdjust="spacingAndGlyphs">GL-</text>
<rect x="37.20" y="250.70" width="5.00" height="3.70" fill="#8e8e8e"/>
<text transform="translate(42.90,250.30) rotate(-90)" font-size="7.80" fill="#111" stroke="#111" stroke-width="0.35" textLength="57.90" lengthAdjust="spacingAndGlyphs">-74 concentration</text>
<text transform="translate(50.80,279.70) rotate(-90)" font-size="7.80" fill="#111" stroke="#111" stroke-width="0.35" textLength="101.90" lengthAdjust="spacingAndGlyphs">in plasma, ng/mL, or brain, ng/g</text>
<text x="258.10" y="203.30" font-size="7.35" text-anchor="start" font-weight="normal" fill="#111" stroke="#111" stroke-width="0.34">C<tspan font-size="5.60" dy="0.50">max</tspan></text>
<text x="258.10" y="211.40" font-size="7.35" text-anchor="start" font-weight="normal" fill="#111" stroke="#111" stroke-width="0.34">T<tspan font-size="5.60" dy="0.50">max</tspan></text>
<text x="258.10" y="219.50" font-size="7.35" text-anchor="start" font-weight="normal" fill="#111" stroke="#111" stroke-width="0.34">AUC<tspan font-size="5.60" dy="0.50">0–720</tspan></text>
<text x="258.10" y="227.60" font-size="7.35" text-anchor="start" font-weight="normal" fill="#111" stroke="#111" stroke-width="0.34">AUC<tspan font-size="5.60" dy="0.50">0–∞</tspan></text>
<text x="258.10" y="235.70" font-size="7.35" text-anchor="start" font-weight="normal" fill="#111" stroke="#111" stroke-width="0.34">T½</text>
<text x="258.10" y="243.80" font-size="7.35" text-anchor="start" font-weight="normal" fill="#111" stroke="#111" stroke-width="0.34">β</text>
<text x="258.10" y="251.90" font-size="7.35" text-anchor="start" font-weight="normal" fill="#111" stroke="#111" stroke-width="0.34">K<tspan font-size="5.60" dy="0.90">p</tspan></text>
<text x="258.10" y="260.00" font-size="7.35" text-anchor="start" font-weight="normal" fill="#111" stroke="#111" stroke-width="0.34">K<tspan font-size="5.60" dy="0.90">p,uu</tspan></text>
<text x="324.20" y="203.30" font-size="7.35" text-anchor="middle" font-weight="normal" fill="#111" stroke="#111" stroke-width="0.34" textLength="56.54" lengthAdjust="spacingAndGlyphs">2,840.74 ± 404.87</text>
<text x="326.50" y="211.40" font-size="7.35" text-anchor="middle" font-weight="normal" fill="#111" stroke="#111" stroke-width="0.34" textLength="35.08" lengthAdjust="spacingAndGlyphs">5.00 ± 0.00</text>
<text x="324.20" y="219.50" font-size="7.35" text-anchor="middle" font-weight="normal" fill="#111" stroke="#111" stroke-width="0.34" textLength="56.02" lengthAdjust="spacingAndGlyphs">2,053.17 ± 197.11</text>
<text x="324.20" y="227.60" font-size="7.35" text-anchor="middle" font-weight="normal" fill="#111" stroke="#111" stroke-width="0.34" textLength="56.54" lengthAdjust="spacingAndGlyphs">2,102.62 ± 298.38</text>
<text x="324.50" y="235.70" font-size="7.35" text-anchor="middle" font-weight="normal" fill="#111" stroke="#111" stroke-width="0.34" textLength="46.27" lengthAdjust="spacingAndGlyphs">110.70 ± 10.00</text>
<text x="326.50" y="243.80" font-size="7.35" text-anchor="middle" font-weight="normal" fill="#111" stroke="#111" stroke-width="0.34" textLength="50.69" lengthAdjust="spacingAndGlyphs">0.0064 ± 0.0006</text>
<text x="390.80" y="203.30" font-size="7.35" text-anchor="middle" font-weight="normal" fill="#111" stroke="#111" stroke-width="0.34" textLength="56.54" lengthAdjust="spacingAndGlyphs">3,246.23 ± 184.90</text>
<text x="393.00" y="211.40" font-size="7.35" text-anchor="middle" font-weight="normal" fill="#111" stroke="#111" stroke-width="0.34" textLength="35.08" lengthAdjust="spacingAndGlyphs">5.00 ± 0.00</text>
<text x="390.80" y="219.50" font-size="7.35" text-anchor="middle" font-weight="normal" fill="#111" stroke="#111" stroke-width="0.34" textLength="56.54" lengthAdjust="spacingAndGlyphs">2,218.83 ± 177.52</text>
<text x="390.80" y="227.60" font-size="7.35" text-anchor="middle" font-weight="normal" fill="#111" stroke="#111" stroke-width="0.34" textLength="56.54" lengthAdjust="spacingAndGlyphs">2,231.62 ± 177.69</text>
<text x="391.30" y="235.70" font-size="7.35" text-anchor="middle" font-weight="normal" fill="#111" stroke="#111" stroke-width="0.34" textLength="38.98" lengthAdjust="spacingAndGlyphs">87.96 ± 4.14</text>
<text x="392.90" y="243.80" font-size="7.35" text-anchor="middle" font-weight="normal" fill="#111" stroke="#111" stroke-width="0.34" textLength="50.69" lengthAdjust="spacingAndGlyphs">0.0079 ± 0.0004</text>
<text x="444.00" y="203.30" font-size="7.35" text-anchor="middle" font-weight="normal" fill="#111" stroke="#111" stroke-width="0.34" textLength="25.58" lengthAdjust="spacingAndGlyphs">(ng/mL)</text>
<text x="444.00" y="211.40" font-size="7.35" text-anchor="middle" font-weight="normal" fill="#111" stroke="#111" stroke-width="0.34" textLength="16.91" lengthAdjust="spacingAndGlyphs">(min)</text>
<text x="444.00" y="219.50" font-size="7.35" text-anchor="middle" font-weight="normal" fill="#111" stroke="#111" stroke-width="0.34" textLength="32.59" lengthAdjust="spacingAndGlyphs">(ng*h/mL)</text>
<text x="444.00" y="227.60" font-size="7.35" text-anchor="middle" font-weight="normal" fill="#111" stroke="#111" stroke-width="0.34" textLength="32.59" lengthAdjust="spacingAndGlyphs">(ng*h/mL)</text>
<text x="444.00" y="235.70" font-size="7.35" text-anchor="middle" font-weight="normal" fill="#111" stroke="#111" stroke-width="0.34" textLength="16.91" lengthAdjust="spacingAndGlyphs">(min)</text>
<text x="444.00" y="243.80" font-size="7.35" text-anchor="middle" font-weight="normal" fill="#111" stroke="#111" stroke-width="0.34" textLength="23.10" lengthAdjust="spacingAndGlyphs">(1/min)</text>
<text x="359.30" y="252.80" font-size="7.35" text-anchor="middle" font-weight="normal" fill="#111" stroke="#111" stroke-width="0.34" textLength="35.08" lengthAdjust="spacingAndGlyphs">1.14 ± 0.27</text>
<text x="359.30" y="260.50" font-size="7.35" text-anchor="middle" font-weight="normal" fill="#111" stroke="#111" stroke-width="0.34" textLength="35.08" lengthAdjust="spacingAndGlyphs">0.81 ± 0.19</text>
<text x="324.55" y="182.90" font-size="7.30" text-anchor="middle" font-weight="bold" fill="#111" stroke="#111" stroke-width="0.25" textLength="22.00" lengthAdjust="spacingAndGlyphs">Plasma</text>
<text x="393.25" y="182.90" font-size="7.30" text-anchor="middle" font-weight="bold" fill="#111" stroke="#111" stroke-width="0.25" textLength="15.50" lengthAdjust="spacingAndGlyphs">Brain</text>
<line x1="319.25" y1="187.50" x2="333.25" y2="187.50" stroke="#d9401f" stroke-width="0.85"/>
<circle cx="326.25" cy="187.50" r="1.3" fill="#d9401f"/>
<line x1="386.15" y1="187.50" x2="400.15" y2="187.50" stroke="#111" stroke-width="0.85"/>
<circle cx="393.15" cy="187.50" r="1.3" fill="#111"/>
<path d="M86.40,375.60 C86.92,374.93 87.48,371.77 89.50,371.60 C91.52,371.43 92.60,372.77 98.50,374.60 C104.40,376.43 100.48,376.13 124.90,382.60 C149.32,389.07 224.98,408.27 245.00,413.40 L245.00,428.90 L86.40,428.90 Z" fill="#e1e1e1" stroke="none"/>
<line x1="82.30" y1="319.60" x2="82.30" y2="429.40" stroke="#5a5a5a" stroke-width="1.00"/>
<line x1="82.30" y1="429.40" x2="247.00" y2="429.40" stroke="#8a8a8a" stroke-width="1"/>
<line x1="80.50" y1="319.60" x2="82.70" y2="319.60" stroke="#222" stroke-width="0.8"/>
<line x1="81.30" y1="332.31" x2="82.70" y2="332.31" stroke="#222" stroke-width="0.7"/>
<line x1="81.30" y1="329.11" x2="82.70" y2="329.11" stroke="#222" stroke-width="0.7"/>
<line x1="81.30" y1="326.83" x2="82.70" y2="326.83" stroke="#222" stroke-width="0.7"/>
<line x1="81.30" y1="325.07" x2="82.70" y2="325.07" stroke="#222" stroke-width="0.7"/>
<line x1="81.30" y1="323.63" x2="82.70" y2="323.63" stroke="#222" stroke-width="0.7"/>
<line x1="81.30" y1="322.42" x2="82.70" y2="322.42" stroke="#222" stroke-width="0.7"/>
<line x1="81.30" y1="321.36" x2="82.70" y2="321.36" stroke="#222" stroke-width="0.7"/>
<line x1="81.30" y1="320.43" x2="82.70" y2="320.43" stroke="#222" stroke-width="0.7"/>
<line x1="80.50" y1="337.78" x2="82.70" y2="337.78" stroke="#222" stroke-width="0.8"/>
<line x1="81.30" y1="350.49" x2="82.70" y2="350.49" stroke="#222" stroke-width="0.7"/>
<line x1="81.30" y1="347.29" x2="82.70" y2="347.29" stroke="#222" stroke-width="0.7"/>
<line x1="81.30" y1="345.01" x2="82.70" y2="345.01" stroke="#222" stroke-width="0.7"/>
<line x1="81.30" y1="343.25" x2="82.70" y2="343.25" stroke="#222" stroke-width="0.7"/>
<line x1="81.30" y1="341.81" x2="82.70" y2="341.81" stroke="#222" stroke-width="0.7"/>
<line x1="81.30" y1="340.60" x2="82.70" y2="340.60" stroke="#222" stroke-width="0.7"/>
<line x1="81.30" y1="339.54" x2="82.70" y2="339.54" stroke="#222" stroke-width="0.7"/>
<line x1="81.30" y1="338.61" x2="82.70" y2="338.61" stroke="#222" stroke-width="0.7"/>
<line x1="80.50" y1="355.96" x2="82.70" y2="355.96" stroke="#222" stroke-width="0.8"/>
<line x1="81.30" y1="368.67" x2="82.70" y2="368.67" stroke="#222" stroke-width="0.7"/>
<line x1="81.30" y1="365.47" x2="82.70" y2="365.47" stroke="#222" stroke-width="0.7"/>
<line x1="81.30" y1="363.19" x2="82.70" y2="363.19" stroke="#222" stroke-width="0.7"/>
<line x1="81.30" y1="361.43" x2="82.70" y2="361.43" stroke="#222" stroke-width="0.7"/>
<line x1="81.30" y1="359.99" x2="82.70" y2="359.99" stroke="#222" stroke-width="0.7"/>
<line x1="81.30" y1="358.78" x2="82.70" y2="358.78" stroke="#222" stroke-width="0.7"/>
<line x1="81.30" y1="357.72" x2="82.70" y2="357.72" stroke="#222" stroke-width="0.7"/>
<line x1="81.30" y1="356.79" x2="82.70" y2="356.79" stroke="#222" stroke-width="0.7"/>
<line x1="80.50" y1="374.14" x2="82.70" y2="374.14" stroke="#222" stroke-width="0.8"/>
<line x1="81.30" y1="386.85" x2="82.70" y2="386.85" stroke="#222" stroke-width="0.7"/>
<line x1="81.30" y1="383.65" x2="82.70" y2="383.65" stroke="#222" stroke-width="0.7"/>
<line x1="81.30" y1="381.37" x2="82.70" y2="381.37" stroke="#222" stroke-width="0.7"/>
<line x1="81.30" y1="379.61" x2="82.70" y2="379.61" stroke="#222" stroke-width="0.7"/>
<line x1="81.30" y1="378.17" x2="82.70" y2="378.17" stroke="#222" stroke-width="0.7"/>
<line x1="81.30" y1="376.96" x2="82.70" y2="376.96" stroke="#222" stroke-width="0.7"/>
<line x1="81.30" y1="375.90" x2="82.70" y2="375.90" stroke="#222" stroke-width="0.7"/>
<line x1="81.30" y1="374.97" x2="82.70" y2="374.97" stroke="#222" stroke-width="0.7"/>
<line x1="80.50" y1="392.32" x2="82.70" y2="392.32" stroke="#222" stroke-width="0.8"/>
<line x1="81.30" y1="405.03" x2="82.70" y2="405.03" stroke="#222" stroke-width="0.7"/>
<line x1="81.30" y1="401.83" x2="82.70" y2="401.83" stroke="#222" stroke-width="0.7"/>
<line x1="81.30" y1="399.55" x2="82.70" y2="399.55" stroke="#222" stroke-width="0.7"/>
<line x1="81.30" y1="397.79" x2="82.70" y2="397.79" stroke="#222" stroke-width="0.7"/>
<line x1="81.30" y1="396.35" x2="82.70" y2="396.35" stroke="#222" stroke-width="0.7"/>
<line x1="81.30" y1="395.14" x2="82.70" y2="395.14" stroke="#222" stroke-width="0.7"/>
<line x1="81.30" y1="394.08" x2="82.70" y2="394.08" stroke="#222" stroke-width="0.7"/>
<line x1="81.30" y1="393.15" x2="82.70" y2="393.15" stroke="#222" stroke-width="0.7"/>
<line x1="80.50" y1="410.50" x2="82.70" y2="410.50" stroke="#222" stroke-width="0.8"/>
<line x1="81.30" y1="423.21" x2="82.70" y2="423.21" stroke="#222" stroke-width="0.7"/>
<line x1="81.30" y1="420.01" x2="82.70" y2="420.01" stroke="#222" stroke-width="0.7"/>
<line x1="81.30" y1="417.73" x2="82.70" y2="417.73" stroke="#222" stroke-width="0.7"/>
<line x1="81.30" y1="415.97" x2="82.70" y2="415.97" stroke="#222" stroke-width="0.7"/>
<line x1="81.30" y1="414.53" x2="82.70" y2="414.53" stroke="#222" stroke-width="0.7"/>
<line x1="81.30" y1="413.32" x2="82.70" y2="413.32" stroke="#222" stroke-width="0.7"/>
<line x1="81.30" y1="412.26" x2="82.70" y2="412.26" stroke="#222" stroke-width="0.7"/>
<line x1="81.30" y1="411.33" x2="82.70" y2="411.33" stroke="#222" stroke-width="0.7"/>
<line x1="80.50" y1="428.68" x2="82.70" y2="428.68" stroke="#222" stroke-width="0.8"/>
<text x="76.70" y="321.80" font-size="6.90" text-anchor="end" font-weight="normal" fill="#111" stroke="#111" stroke-width="0.40" textLength="21.10" lengthAdjust="spacingAndGlyphs">10,000</text>
<text x="76.70" y="339.98" font-size="6.90" text-anchor="end" font-weight="normal" fill="#111" stroke="#111" stroke-width="0.40" textLength="17.27" lengthAdjust="spacingAndGlyphs">1,000</text>
<text x="76.70" y="358.16" font-size="6.90" text-anchor="end" font-weight="normal" fill="#111" stroke="#111" stroke-width="0.40" textLength="11.51" lengthAdjust="spacingAndGlyphs">100</text>
<text x="76.70" y="376.34" font-size="6.90" text-anchor="end" font-weight="normal" fill="#111" stroke="#111" stroke-width="0.40" textLength="7.67" lengthAdjust="spacingAndGlyphs">10</text>
<text x="76.70" y="394.52" font-size="6.90" text-anchor="end" font-weight="normal" fill="#111" stroke="#111" stroke-width="0.40" textLength="3.84" lengthAdjust="spacingAndGlyphs">1</text>
<text x="76.70" y="412.70" font-size="6.90" text-anchor="end" font-weight="normal" fill="#111" stroke="#111" stroke-width="0.40" textLength="9.59" lengthAdjust="spacingAndGlyphs">0.1</text>
<text x="76.70" y="430.88" font-size="6.90" text-anchor="end" font-weight="normal" fill="#111" stroke="#111" stroke-width="0.40" textLength="13.43" lengthAdjust="spacingAndGlyphs">0.01</text>
<line x1="85.90" y1="429.40" x2="85.90" y2="431.20" stroke="#777" stroke-width="0.8"/>
<line x1="89.30" y1="429.40" x2="89.30" y2="431.20" stroke="#777" stroke-width="0.8"/>
<line x1="98.30" y1="429.40" x2="98.30" y2="431.20" stroke="#777" stroke-width="0.8"/>
<line x1="124.50" y1="429.40" x2="124.50" y2="431.20" stroke="#777" stroke-width="0.8"/>
<line x1="244.40" y1="429.40" x2="244.40" y2="431.20" stroke="#777" stroke-width="0.8"/>
<text x="82.05" y="437.60" font-size="7.60" text-anchor="middle" font-weight="normal" fill="#111" stroke="#111" stroke-width="0.40" textLength="3.80" lengthAdjust="spacingAndGlyphs">5</text>
<text x="89.55" y="437.60" font-size="7.60" text-anchor="middle" font-weight="normal" fill="#111" stroke="#111" stroke-width="0.40" textLength="7.61" lengthAdjust="spacingAndGlyphs">20</text>
<text x="98.30" y="437.60" font-size="7.60" text-anchor="middle" font-weight="normal" fill="#111" stroke="#111" stroke-width="0.40" textLength="7.61" lengthAdjust="spacingAndGlyphs">60</text>
<text x="125.00" y="437.60" font-size="7.60" text-anchor="middle" font-weight="normal" fill="#111" stroke="#111" stroke-width="0.40" textLength="11.41" lengthAdjust="spacingAndGlyphs">180</text>
<text x="244.20" y="437.60" font-size="7.60" text-anchor="middle" font-weight="normal" fill="#111" stroke="#111" stroke-width="0.40" textLength="11.41" lengthAdjust="spacingAndGlyphs">720</text>
<path d="M85.80,372.60 C86.42,372.07 87.38,369.20 89.50,369.40 C91.62,369.60 92.60,371.70 98.50,373.80 C104.40,375.90 100.48,375.48 124.90,382.00 C149.32,388.52 224.98,407.75 245.00,412.90" fill="none" stroke="#3a3a3a" stroke-width="0.75"/>
<path d="M85.50,332.40 C86.17,332.53 87.33,331.53 89.50,333.20 C91.67,334.87 92.60,340.12 98.50,342.40 C104.40,344.68 100.48,340.80 124.90,346.90 C149.32,353.00 224.98,373.65 245.00,379.00" fill="none" stroke="#d9401f" stroke-width="0.85"/>
<path d="M89.70,335.30 C91.17,336.02 92.63,337.48 98.50,339.60 C104.37,341.72 100.48,341.33 124.90,348.00 C149.32,354.67 224.98,374.33 245.00,379.60" fill="none" stroke="#3a3a3a" stroke-width="0.75"/>
<path d="M98.50,338.20 V355.90 M97.10,338.20 H99.90 M97.10,355.90 H99.90" stroke="#d9401f" stroke-width="0.6" fill="none"/>
<path d="M98.50,337.50 V341.40 M97.10,337.50 H99.90 M97.10,341.40 H99.90" stroke="#222" stroke-width="0.6" fill="none"/>
<path d="M98.50,371.20 V377.30 M97.10,371.20 H99.90 M97.10,377.30 H99.90" stroke="#222" stroke-width="0.6" fill="none"/>
<path d="M245.00,376.50 V386.20 M243.60,376.50 H246.40 M243.60,386.20 H246.40" stroke="#d9401f" stroke-width="0.6" fill="none"/>
<path d="M245.00,378.00 V382.50 M243.60,378.00 H246.40 M243.60,382.50 H246.40" stroke="#222" stroke-width="0.6" fill="none"/>
<path d="M245.00,411.30 V416.60 M243.60,411.30 H246.40 M243.60,416.60 H246.40" stroke="#222" stroke-width="0.6" fill="none"/>
<rect x="84.30" y="371.10" width="3.00" height="3.00" fill="#fff" stroke="#222" stroke-width="0.7"/>
<circle cx="89.50" cy="369.40" r="1.50" fill="#fff" stroke="#222" stroke-width="0.7"/>
<circle cx="98.50" cy="373.80" r="1.50" fill="#fff" stroke="#222" stroke-width="0.7"/>
<circle cx="124.90" cy="382.00" r="1.50" fill="#fff" stroke="#222" stroke-width="0.7"/>
<circle cx="245.00" cy="412.90" r="1.50" fill="#fff" stroke="#222" stroke-width="0.7"/>
<circle cx="85.50" cy="332.40" r="1.60" fill="#d9401f"/>
<circle cx="89.50" cy="333.20" r="1.60" fill="#d9401f"/>
<circle cx="98.50" cy="342.40" r="1.60" fill="#d9401f"/>
<rect x="123.60" y="345.60" width="2.60" height="2.60" fill="#d9401f"/>
<circle cx="245.00" cy="379.00" r="1.60" fill="#d9401f"/>
<rect x="84.30" y="337.00" width="3.00" height="3.00" fill="#111"/>
<circle cx="89.70" cy="335.30" r="1.75" fill="#111"/>
<circle cx="98.50" cy="339.60" r="1.75" fill="#111"/>
<rect x="123.40" y="346.50" width="3.00" height="3.00" fill="#111"/>
<circle cx="245.00" cy="379.60" r="1.75" fill="#111"/>
<text x="109.20" y="421.60" font-size="8.40" text-anchor="start" font-weight="normal" fill="#111" stroke="#111" stroke-width="0.30" textLength="110.10" lengthAdjust="spacingAndGlyphs">Estimated free brain concentration</text>
<text x="145.20" y="448.70" font-size="8.50" text-anchor="start" font-weight="bold" fill="#111" stroke="#111" stroke-width="0.25" textLength="30.70" lengthAdjust="spacingAndGlyphs">Time, min</text>
<text x="35.90" y="448.80" font-size="7.90" text-anchor="start" font-weight="bold" fill="#111" stroke="#111" stroke-width="0.10">c</text>
<text x="233.90" y="311.90" font-size="7.60" text-anchor="start" font-weight="bold" fill="#111" stroke="#111" stroke-width="0.12" textLength="25.80" lengthAdjust="spacingAndGlyphs">GL-II-75</text>
<text transform="translate(42.90,410.20) rotate(-90)" font-size="7.80" fill="#111" stroke="#111" stroke-width="0.35" textLength="9.60" lengthAdjust="spacingAndGlyphs">GL-</text>
<rect x="37.20" y="396.40" width="5.00" height="3.80" fill="#8e8e8e"/>
<text transform="translate(42.90,396.00) rotate(-90)" font-size="7.80" fill="#111" stroke="#111" stroke-width="0.35" textLength="57.60" lengthAdjust="spacingAndGlyphs">-75 concentration</text>
<text transform="translate(51.00,425.60) rotate(-90)" font-size="7.80" fill="#111" stroke="#111" stroke-width="0.35" textLength="101.30" lengthAdjust="spacingAndGlyphs">in plasma, ng/mL, or brain, ng/g</text>
<text x="258.00" y="354.50" font-size="7.35" text-anchor="start" font-weight="normal" fill="#111" stroke="#111" stroke-width="0.34">C<tspan font-size="5.60" dy="0.50">max</tspan></text>
<text x="258.00" y="362.70" font-size="7.35" text-anchor="start" font-weight="normal" fill="#111" stroke="#111" stroke-width="0.34">T<tspan font-size="5.60" dy="0.50">max</tspan></text>
<text x="258.00" y="370.90" font-size="7.35" text-anchor="start" font-weight="normal" fill="#111" stroke="#111" stroke-width="0.34">AUC<tspan font-size="5.60" dy="0.50">0–720</tspan></text>
<text x="258.00" y="379.10" font-size="7.35" text-anchor="start" font-weight="normal" fill="#111" stroke="#111" stroke-width="0.34">AUC<tspan font-size="5.60" dy="0.50">0–∞</tspan></text>
<text x="258.00" y="387.30" font-size="7.35" text-anchor="start" font-weight="normal" fill="#111" stroke="#111" stroke-width="0.34">T½</text>
<text x="258.00" y="395.50" font-size="7.35" text-anchor="start" font-weight="normal" fill="#111" stroke="#111" stroke-width="0.34">β</text>
<text x="258.00" y="403.70" font-size="7.35" text-anchor="start" font-weight="normal" fill="#111" stroke="#111" stroke-width="0.34">K<tspan font-size="5.60" dy="0.90">p</tspan></text>
<text x="258.00" y="411.90" font-size="7.35" text-anchor="start" font-weight="normal" fill="#111" stroke="#111" stroke-width="0.34">K<tspan font-size="5.60" dy="0.90">p,uu</tspan></text>
<text x="320.40" y="354.50" font-size="7.35" text-anchor="middle" font-weight="normal" fill="#111" stroke="#111" stroke-width="0.34" textLength="56.54" lengthAdjust="spacingAndGlyphs">2,151.323 ± 81.07</text>
<text x="325.40" y="362.70" font-size="7.35" text-anchor="middle" font-weight="normal" fill="#111" stroke="#111" stroke-width="0.34" textLength="38.98" lengthAdjust="spacingAndGlyphs">15.00 ± 5.00</text>
<text x="323.40" y="370.90" font-size="7.35" text-anchor="middle" font-weight="normal" fill="#111" stroke="#111" stroke-width="0.34" textLength="56.02" lengthAdjust="spacingAndGlyphs">4,845.31 ± 118.92</text>
<text x="323.40" y="379.10" font-size="7.35" text-anchor="middle" font-weight="normal" fill="#111" stroke="#111" stroke-width="0.34" textLength="55.50" lengthAdjust="spacingAndGlyphs">4,856.48 ± 111.76</text>
<text x="324.60" y="387.30" font-size="7.35" text-anchor="middle" font-weight="normal" fill="#111" stroke="#111" stroke-width="0.34" textLength="38.98" lengthAdjust="spacingAndGlyphs">80.34 ± 9.54</text>
<text x="325.20" y="395.50" font-size="7.35" text-anchor="middle" font-weight="normal" fill="#111" stroke="#111" stroke-width="0.34" textLength="46.79" lengthAdjust="spacingAndGlyphs">0.0089 ± 0.001</text>
<text x="388.20" y="354.50" font-size="7.35" text-anchor="middle" font-weight="normal" fill="#111" stroke="#111" stroke-width="0.34" textLength="56.54" lengthAdjust="spacingAndGlyphs">1,410.23 ± 136.71</text>
<text x="389.00" y="362.70" font-size="7.35" text-anchor="middle" font-weight="normal" fill="#111" stroke="#111" stroke-width="0.34" textLength="38.98" lengthAdjust="spacingAndGlyphs">20.00 ± 0.00</text>
<text x="390.00" y="370.90" font-size="7.35" text-anchor="middle" font-weight="normal" fill="#111" stroke="#111" stroke-width="0.34" textLength="52.12" lengthAdjust="spacingAndGlyphs">3,895.8 ± 114.08</text>
<text x="388.20" y="379.10" font-size="7.35" text-anchor="middle" font-weight="normal" fill="#111" stroke="#111" stroke-width="0.34" textLength="56.02" lengthAdjust="spacingAndGlyphs">3,907.26 ± 112.51</text>
<text x="389.00" y="387.30" font-size="7.35" text-anchor="middle" font-weight="normal" fill="#111" stroke="#111" stroke-width="0.34" textLength="38.98" lengthAdjust="spacingAndGlyphs">86.16 ± 5.52</text>
<text x="390.80" y="395.50" font-size="7.35" text-anchor="middle" font-weight="normal" fill="#111" stroke="#111" stroke-width="0.34" textLength="50.69" lengthAdjust="spacingAndGlyphs">0.0081 ± 0.0005</text>
<text x="441.50" y="354.50" font-size="7.35" text-anchor="middle" font-weight="normal" fill="#111" stroke="#111" stroke-width="0.34" textLength="25.58" lengthAdjust="spacingAndGlyphs">(ng/mL)</text>
<text x="441.50" y="362.70" font-size="7.35" text-anchor="middle" font-weight="normal" fill="#111" stroke="#111" stroke-width="0.34" textLength="16.91" lengthAdjust="spacingAndGlyphs">(min)</text>
<text x="441.50" y="370.90" font-size="7.35" text-anchor="middle" font-weight="normal" fill="#111" stroke="#111" stroke-width="0.34" textLength="32.59" lengthAdjust="spacingAndGlyphs">(ng*h/mL)</text>
<text x="441.50" y="379.10" font-size="7.35" text-anchor="middle" font-weight="normal" fill="#111" stroke="#111" stroke-width="0.34" textLength="32.59" lengthAdjust="spacingAndGlyphs">(ng*h/mL)</text>
<text x="441.50" y="387.30" font-size="7.35" text-anchor="middle" font-weight="normal" fill="#111" stroke="#111" stroke-width="0.34" textLength="16.91" lengthAdjust="spacingAndGlyphs">(min)</text>
<text x="441.50" y="395.50" font-size="7.35" text-anchor="middle" font-weight="normal" fill="#111" stroke="#111" stroke-width="0.34" textLength="23.10" lengthAdjust="spacingAndGlyphs">(1/min)</text>
<text x="354.00" y="403.70" font-size="7.35" text-anchor="middle" font-weight="normal" fill="#111" stroke="#111" stroke-width="0.34" textLength="35.08" lengthAdjust="spacingAndGlyphs">0.80 ± 0.04</text>
<text x="354.00" y="411.90" font-size="7.35" text-anchor="middle" font-weight="normal" fill="#111" stroke="#111" stroke-width="0.34" textLength="35.08" lengthAdjust="spacingAndGlyphs">0.21 ± 0.01</text>
<text x="325.80" y="334.70" font-size="7.30" text-anchor="middle" font-weight="bold" fill="#111" stroke="#111" stroke-width="0.25" textLength="22.00" lengthAdjust="spacingAndGlyphs">Plasma</text>
<text x="390.85" y="334.70" font-size="7.30" text-anchor="middle" font-weight="bold" fill="#111" stroke="#111" stroke-width="0.25" textLength="15.50" lengthAdjust="spacingAndGlyphs">Brain</text>
<line x1="320.25" y1="339.50" x2="334.25" y2="339.50" stroke="#d9401f" stroke-width="0.85"/>
<circle cx="327.25" cy="339.50" r="1.3" fill="#d9401f"/>
<line x1="384.35" y1="339.50" x2="398.35" y2="339.50" stroke="#111" stroke-width="0.85"/>
<circle cx="391.35" cy="339.50" r="1.3" fill="#111"/>
<path d="M85.70,505.20 C86.25,505.33 86.92,504.45 89.00,506.00 C91.08,507.55 92.38,510.88 98.20,514.50 C104.02,518.12 99.70,518.63 123.90,527.70 C148.10,536.77 223.48,562.03 243.40,568.90 L243.40,577.90 L85.70,577.90 Z" fill="#e1e1e1" stroke="none"/>
<line x1="81.80" y1="464.20" x2="81.80" y2="578.40" stroke="#666" stroke-width="1.00"/>
<line x1="81.80" y1="578.40" x2="246.00" y2="578.40" stroke="#8a8a8a" stroke-width="1"/>
<line x1="80.00" y1="469.60" x2="82.20" y2="469.60" stroke="#666" stroke-width="0.8"/>
<line x1="80.80" y1="482.18" x2="82.20" y2="482.18" stroke="#666" stroke-width="0.7"/>
<line x1="80.80" y1="479.01" x2="82.20" y2="479.01" stroke="#666" stroke-width="0.7"/>
<line x1="80.80" y1="476.76" x2="82.20" y2="476.76" stroke="#666" stroke-width="0.7"/>
<line x1="80.80" y1="475.02" x2="82.20" y2="475.02" stroke="#666" stroke-width="0.7"/>
<line x1="80.80" y1="473.59" x2="82.20" y2="473.59" stroke="#666" stroke-width="0.7"/>
<line x1="80.80" y1="472.39" x2="82.20" y2="472.39" stroke="#666" stroke-width="0.7"/>
<line x1="80.80" y1="471.34" x2="82.20" y2="471.34" stroke="#666" stroke-width="0.7"/>
<line x1="80.80" y1="470.42" x2="82.20" y2="470.42" stroke="#666" stroke-width="0.7"/>
<line x1="80.00" y1="487.60" x2="82.20" y2="487.60" stroke="#666" stroke-width="0.8"/>
<line x1="80.80" y1="500.18" x2="82.20" y2="500.18" stroke="#666" stroke-width="0.7"/>
<line x1="80.80" y1="497.01" x2="82.20" y2="497.01" stroke="#666" stroke-width="0.7"/>
<line x1="80.80" y1="494.76" x2="82.20" y2="494.76" stroke="#666" stroke-width="0.7"/>
<line x1="80.80" y1="493.02" x2="82.20" y2="493.02" stroke="#666" stroke-width="0.7"/>
<line x1="80.80" y1="491.59" x2="82.20" y2="491.59" stroke="#666" stroke-width="0.7"/>
<line x1="80.80" y1="490.39" x2="82.20" y2="490.39" stroke="#666" stroke-width="0.7"/>
<line x1="80.80" y1="489.34" x2="82.20" y2="489.34" stroke="#666" stroke-width="0.7"/>
<line x1="80.80" y1="488.42" x2="82.20" y2="488.42" stroke="#666" stroke-width="0.7"/>
<line x1="80.00" y1="505.60" x2="82.20" y2="505.60" stroke="#666" stroke-width="0.8"/>
<line x1="80.80" y1="518.18" x2="82.20" y2="518.18" stroke="#666" stroke-width="0.7"/>
<line x1="80.80" y1="515.01" x2="82.20" y2="515.01" stroke="#666" stroke-width="0.7"/>
<line x1="80.80" y1="512.76" x2="82.20" y2="512.76" stroke="#666" stroke-width="0.7"/>
<line x1="80.80" y1="511.02" x2="82.20" y2="511.02" stroke="#666" stroke-width="0.7"/>
<line x1="80.80" y1="509.59" x2="82.20" y2="509.59" stroke="#666" stroke-width="0.7"/>
<line x1="80.80" y1="508.39" x2="82.20" y2="508.39" stroke="#666" stroke-width="0.7"/>
<line x1="80.80" y1="507.34" x2="82.20" y2="507.34" stroke="#666" stroke-width="0.7"/>
<line x1="80.80" y1="506.42" x2="82.20" y2="506.42" stroke="#666" stroke-width="0.7"/>
<line x1="80.00" y1="523.60" x2="82.20" y2="523.60" stroke="#666" stroke-width="0.8"/>
<line x1="80.80" y1="536.18" x2="82.20" y2="536.18" stroke="#666" stroke-width="0.7"/>
<line x1="80.80" y1="533.01" x2="82.20" y2="533.01" stroke="#666" stroke-width="0.7"/>
<line x1="80.80" y1="530.76" x2="82.20" y2="530.76" stroke="#666" stroke-width="0.7"/>
<line x1="80.80" y1="529.02" x2="82.20" y2="529.02" stroke="#666" stroke-width="0.7"/>
<line x1="80.80" y1="527.59" x2="82.20" y2="527.59" stroke="#666" stroke-width="0.7"/>
<line x1="80.80" y1="526.39" x2="82.20" y2="526.39" stroke="#666" stroke-width="0.7"/>
<line x1="80.80" y1="525.34" x2="82.20" y2="525.34" stroke="#666" stroke-width="0.7"/>
<line x1="80.80" y1="524.42" x2="82.20" y2="524.42" stroke="#666" stroke-width="0.7"/>
<line x1="80.00" y1="541.60" x2="82.20" y2="541.60" stroke="#666" stroke-width="0.8"/>
<line x1="80.80" y1="554.18" x2="82.20" y2="554.18" stroke="#666" stroke-width="0.7"/>
<line x1="80.80" y1="551.01" x2="82.20" y2="551.01" stroke="#666" stroke-width="0.7"/>
<line x1="80.80" y1="548.76" x2="82.20" y2="548.76" stroke="#666" stroke-width="0.7"/>
<line x1="80.80" y1="547.02" x2="82.20" y2="547.02" stroke="#666" stroke-width="0.7"/>
<line x1="80.80" y1="545.59" x2="82.20" y2="545.59" stroke="#666" stroke-width="0.7"/>
<line x1="80.80" y1="544.39" x2="82.20" y2="544.39" stroke="#666" stroke-width="0.7"/>
<line x1="80.80" y1="543.34" x2="82.20" y2="543.34" stroke="#666" stroke-width="0.7"/>
<line x1="80.80" y1="542.42" x2="82.20" y2="542.42" stroke="#666" stroke-width="0.7"/>
<line x1="80.00" y1="559.60" x2="82.20" y2="559.60" stroke="#666" stroke-width="0.8"/>
<line x1="80.80" y1="572.18" x2="82.20" y2="572.18" stroke="#666" stroke-width="0.7"/>
<line x1="80.80" y1="569.01" x2="82.20" y2="569.01" stroke="#666" stroke-width="0.7"/>
<line x1="80.80" y1="566.76" x2="82.20" y2="566.76" stroke="#666" stroke-width="0.7"/>
<line x1="80.80" y1="565.02" x2="82.20" y2="565.02" stroke="#666" stroke-width="0.7"/>
<line x1="80.80" y1="563.59" x2="82.20" y2="563.59" stroke="#666" stroke-width="0.7"/>
<line x1="80.80" y1="562.39" x2="82.20" y2="562.39" stroke="#666" stroke-width="0.7"/>
<line x1="80.80" y1="561.34" x2="82.20" y2="561.34" stroke="#666" stroke-width="0.7"/>
<line x1="80.80" y1="560.42" x2="82.20" y2="560.42" stroke="#666" stroke-width="0.7"/>
<line x1="80.00" y1="577.60" x2="82.20" y2="577.60" stroke="#666" stroke-width="0.8"/>
<text x="76.50" y="471.80" font-size="6.90" text-anchor="end" font-weight="normal" fill="#111" stroke="#111" stroke-width="0.40" textLength="21.10" lengthAdjust="spacingAndGlyphs">10,000</text>
<text x="76.50" y="489.80" font-size="6.90" text-anchor="end" font-weight="normal" fill="#111" stroke="#111" stroke-width="0.40" textLength="17.27" lengthAdjust="spacingAndGlyphs">1,000</text>
<text x="76.50" y="507.80" font-size="6.90" text-anchor="end" font-weight="normal" fill="#111" stroke="#111" stroke-width="0.40" textLength="11.51" lengthAdjust="spacingAndGlyphs">100</text>
<text x="76.50" y="525.80" font-size="6.90" text-anchor="end" font-weight="normal" fill="#111" stroke="#111" stroke-width="0.40" textLength="7.67" lengthAdjust="spacingAndGlyphs">10</text>
<text x="76.50" y="543.80" font-size="6.90" text-anchor="end" font-weight="normal" fill="#111" stroke="#111" stroke-width="0.40" textLength="3.84" lengthAdjust="spacingAndGlyphs">1</text>
<text x="76.50" y="561.80" font-size="6.90" text-anchor="end" font-weight="normal" fill="#111" stroke="#111" stroke-width="0.40" textLength="9.59" lengthAdjust="spacingAndGlyphs">0.1</text>
<text x="76.50" y="579.80" font-size="6.90" text-anchor="end" font-weight="normal" fill="#111" stroke="#111" stroke-width="0.40" textLength="13.43" lengthAdjust="spacingAndGlyphs">0.01</text>
<line x1="85.10" y1="578.40" x2="85.10" y2="580.20" stroke="#777" stroke-width="0.8"/>
<line x1="88.70" y1="578.40" x2="88.70" y2="580.20" stroke="#777" stroke-width="0.8"/>
<line x1="97.80" y1="578.40" x2="97.80" y2="580.20" stroke="#777" stroke-width="0.8"/>
<line x1="124.20" y1="578.40" x2="124.20" y2="580.20" stroke="#777" stroke-width="0.8"/>
<line x1="243.10" y1="578.40" x2="243.10" y2="580.20" stroke="#777" stroke-width="0.8"/>
<text x="82.05" y="587.50" font-size="7.60" text-anchor="middle" font-weight="normal" fill="#111" stroke="#111" stroke-width="0.40" textLength="3.80" lengthAdjust="spacingAndGlyphs">5</text>
<text x="89.55" y="587.50" font-size="7.60" text-anchor="middle" font-weight="normal" fill="#111" stroke="#111" stroke-width="0.40" textLength="7.61" lengthAdjust="spacingAndGlyphs">20</text>
<text x="98.30" y="587.50" font-size="7.60" text-anchor="middle" font-weight="normal" fill="#111" stroke="#111" stroke-width="0.40" textLength="7.61" lengthAdjust="spacingAndGlyphs">60</text>
<text x="124.70" y="587.50" font-size="7.60" text-anchor="middle" font-weight="normal" fill="#111" stroke="#111" stroke-width="0.40" textLength="11.41" lengthAdjust="spacingAndGlyphs">180</text>
<text x="244.00" y="587.50" font-size="7.60" text-anchor="middle" font-weight="normal" fill="#111" stroke="#111" stroke-width="0.40" textLength="11.41" lengthAdjust="spacingAndGlyphs">720</text>
<path d="M85.10,502.20 C85.75,502.47 86.82,501.88 89.00,503.80 C91.18,505.72 92.38,509.82 98.20,513.70 C104.02,517.58 99.70,517.98 123.90,527.10 C148.10,536.22 223.48,561.52 243.40,568.40" fill="none" stroke="#3a3a3a" stroke-width="0.75"/>
<path d="M85.30,479.00 C85.92,479.22 86.85,478.18 89.00,480.30 C91.15,482.42 92.38,487.60 98.20,491.70 C104.02,495.80 99.70,496.02 123.90,504.90 C148.10,513.78 223.48,538.32 243.40,545.00" fill="none" stroke="#3a3a3a" stroke-width="0.75"/>
<path d="M85.10,483.70 C85.75,485.20 86.82,489.43 89.00,492.70 C91.18,495.97 92.38,500.18 98.20,503.30 C104.02,506.42 99.70,507.68 123.90,511.40 C148.10,515.12 223.48,523.23 243.40,525.60" fill="none" stroke="#d9401f" stroke-width="0.85"/>
<path d="M85.10,480.00 V486.00 M83.70,480.00 H86.50 M83.70,486.00 H86.50" stroke="#d9401f" stroke-width="0.6" fill="none"/>
<path d="M89.00,489.50 V496.00 M87.60,489.50 H90.40 M87.60,496.00 H90.40" stroke="#d9401f" stroke-width="0.6" fill="none"/>
<path d="M98.20,489.50 V494.00 M96.80,489.50 H99.60 M96.80,494.00 H99.60" stroke="#222" stroke-width="0.6" fill="none"/>
<path d="M123.90,502.50 V507.50 M122.50,502.50 H125.30 M122.50,507.50 H125.30" stroke="#222" stroke-width="0.6" fill="none"/>
<path d="M123.90,509.30 V515.50 M122.50,509.30 H125.30 M122.50,515.50 H125.30" stroke="#d9401f" stroke-width="0.6" fill="none"/>
<path d="M123.90,525.00 V531.00 M122.50,525.00 H125.30 M122.50,531.00 H125.30" stroke="#222" stroke-width="0.6" fill="none"/>
<path d="M243.40,542.70 V551.50 M242.00,542.70 H244.80 M242.00,551.50 H244.80" stroke="#222" stroke-width="0.6" fill="none"/>
<path d="M243.40,564.70 V574.80 M242.00,564.70 H244.80 M242.00,574.80 H244.80" stroke="#222" stroke-width="0.6" fill="none"/>
<circle cx="85.10" cy="502.20" r="1.40" fill="#fff" stroke="#222" stroke-width="0.7"/>
<rect x="87.60" y="502.40" width="2.80" height="2.80" fill="#fff" stroke="#222" stroke-width="0.7"/>
<circle cx="98.20" cy="513.70" r="1.40" fill="#fff" stroke="#222" stroke-width="0.7"/>
<circle cx="123.90" cy="527.10" r="1.40" fill="#fff" stroke="#222" stroke-width="0.7"/>
<circle cx="243.40" cy="568.40" r="1.40" fill="#fff" stroke="#222" stroke-width="0.7"/>
<path d="M83.42,477.50 L87.17,477.50 L85.30,480.88 Z" fill="#111"/>
<rect x="87.70" y="479.00" width="2.60" height="2.60" fill="#111"/>
<circle cx="98.20" cy="491.70" r="1.50" fill="#111"/>
<circle cx="123.90" cy="504.90" r="1.50" fill="#111"/>
<circle cx="243.40" cy="545.00" r="1.50" fill="#111"/>
<rect x="83.90" y="482.50" width="2.40" height="2.40" fill="#d9401f"/>
<path d="M89.00,490.62 L91.08,492.70 L89.00,494.78 L86.92,492.70 Z" fill="#d9401f"/>
<rect x="97.00" y="502.10" width="2.40" height="2.40" fill="#d9401f"/>
<circle cx="123.90" cy="511.40" r="1.60" fill="#d9401f"/>
<circle cx="243.40" cy="525.60" r="1.60" fill="#d9401f"/>
<text x="109.20" y="571.90" font-size="8.40" text-anchor="start" font-weight="normal" fill="#111" stroke="#111" stroke-width="0.30" textLength="110.10" lengthAdjust="spacingAndGlyphs">Estimated free brain concentration</text>
<text x="145.20" y="598.70" font-size="8.50" text-anchor="start" font-weight="bold" fill="#111" stroke="#111" stroke-width="0.25" textLength="30.70" lengthAdjust="spacingAndGlyphs">Time, min</text>
<text x="35.90" y="598.70" font-size="7.90" text-anchor="start" font-weight="bold" fill="#111" stroke="#111" stroke-width="0.10">d</text>
<text x="241.20" y="460.10" font-size="7.60" text-anchor="start" font-weight="bold" fill="#111" stroke="#111" stroke-width="0.12" textLength="12.10" lengthAdjust="spacingAndGlyphs">DZP</text>
<text transform="translate(42.80,554.20) rotate(-90)" font-size="7.80" fill="#111" stroke="#111" stroke-width="0.35" textLength="61.00" lengthAdjust="spacingAndGlyphs">DZP concentration</text>
<text transform="translate(51.00,575.60) rotate(-90)" font-size="7.80" fill="#111" stroke="#111" stroke-width="0.35" textLength="102.30" lengthAdjust="spacingAndGlyphs">in plasma, ng/mL, or brain, ng/g</text>
<text x="258.00" y="505.80" font-size="7.35" text-anchor="start" font-weight="normal" fill="#111" stroke="#111" stroke-width="0.34">C<tspan font-size="5.60" dy="0.50">max</tspan></text>
<text x="258.00" y="514.03" font-size="7.35" text-anchor="start" font-weight="normal" fill="#111" stroke="#111" stroke-width="0.34">T<tspan font-size="5.60" dy="0.50">max</tspan></text>
<text x="258.00" y="522.26" font-size="7.35" text-anchor="start" font-weight="normal" fill="#111" stroke="#111" stroke-width="0.34">AUC<tspan font-size="5.60" dy="0.50">0–720</tspan></text>
<text x="258.00" y="530.49" font-size="7.35" text-anchor="start" font-weight="normal" fill="#111" stroke="#111" stroke-width="0.34">AUC<tspan font-size="5.60" dy="0.50">0–∞</tspan></text>
<text x="258.00" y="538.72" font-size="7.35" text-anchor="start" font-weight="normal" fill="#111" stroke="#111" stroke-width="0.34">T½</text>
<text x="258.00" y="546.95" font-size="7.35" text-anchor="start" font-weight="normal" fill="#111" stroke="#111" stroke-width="0.34">β</text>
<text x="258.00" y="555.18" font-size="7.35" text-anchor="start" font-weight="normal" fill="#111" stroke="#111" stroke-width="0.34">K<tspan font-size="5.60" dy="0.90">p</tspan></text>
<text x="258.00" y="563.41" font-size="7.35" text-anchor="start" font-weight="normal" fill="#111" stroke="#111" stroke-width="0.34">K<tspan font-size="5.60" dy="0.90">p,uu</tspan></text>
<text x="294.80" y="505.80" font-size="7.35" text-anchor="start" font-weight="normal" fill="#111" stroke="#111" stroke-width="0.34" textLength="50.69" lengthAdjust="spacingAndGlyphs">909.43 ± 193.20</text>
<text x="303.70" y="514.03" font-size="7.35" text-anchor="start" font-weight="normal" fill="#111" stroke="#111" stroke-width="0.34" textLength="35.08" lengthAdjust="spacingAndGlyphs">5.00 ± 0.00</text>
<text x="294.80" y="522.26" font-size="7.35" text-anchor="start" font-weight="normal" fill="#111" stroke="#111" stroke-width="0.34" textLength="46.79" lengthAdjust="spacingAndGlyphs">567.41 ± 73.38</text>
<text x="294.80" y="530.49" font-size="7.35" text-anchor="start" font-weight="normal" fill="#111" stroke="#111" stroke-width="0.34" textLength="46.79" lengthAdjust="spacingAndGlyphs">583.08 ± 71.57</text>
<text x="294.80" y="538.72" font-size="7.35" text-anchor="start" font-weight="normal" fill="#111" stroke="#111" stroke-width="0.34" textLength="42.36" lengthAdjust="spacingAndGlyphs">118.80 ± 5.40</text>
<text x="294.80" y="546.95" font-size="7.35" text-anchor="start" font-weight="normal" fill="#111" stroke="#111" stroke-width="0.34" textLength="50.69" lengthAdjust="spacingAndGlyphs">0.0059 ± 0.0003</text>
<text x="388.50" y="505.80" font-size="7.35" text-anchor="middle" font-weight="normal" fill="#111" stroke="#111" stroke-width="0.34" textLength="56.54" lengthAdjust="spacingAndGlyphs">1,555.05 ± 270.87</text>
<text x="391.00" y="514.03" font-size="7.35" text-anchor="middle" font-weight="normal" fill="#111" stroke="#111" stroke-width="0.34" textLength="35.08" lengthAdjust="spacingAndGlyphs">5.00 ± 0.00</text>
<text x="388.50" y="522.26" font-size="7.35" text-anchor="middle" font-weight="normal" fill="#111" stroke="#111" stroke-width="0.34" textLength="56.54" lengthAdjust="spacingAndGlyphs">1,638.94 ± 221.92</text>
<text x="388.50" y="530.49" font-size="7.35" text-anchor="middle" font-weight="normal" fill="#111" stroke="#111" stroke-width="0.34" textLength="56.54" lengthAdjust="spacingAndGlyphs">1,778.29 ± 255.93</text>
<text x="389.20" y="538.72" font-size="7.35" text-anchor="middle" font-weight="normal" fill="#111" stroke="#111" stroke-width="0.34" textLength="38.98" lengthAdjust="spacingAndGlyphs">63.78 ± 3.12</text>
<text x="391.20" y="546.95" font-size="7.35" text-anchor="middle" font-weight="normal" fill="#111" stroke="#111" stroke-width="0.34" textLength="50.69" lengthAdjust="spacingAndGlyphs">0.0109 ± 0.0006</text>
<text x="441.50" y="505.80" font-size="7.35" text-anchor="middle" font-weight="normal" fill="#111" stroke="#111" stroke-width="0.34" textLength="25.58" lengthAdjust="spacingAndGlyphs">(ng/mL)</text>
<text x="441.50" y="514.03" font-size="7.35" text-anchor="middle" font-weight="normal" fill="#111" stroke="#111" stroke-width="0.34" textLength="16.91" lengthAdjust="spacingAndGlyphs">(min)</text>
<text x="441.50" y="522.26" font-size="7.35" text-anchor="middle" font-weight="normal" fill="#111" stroke="#111" stroke-width="0.34" textLength="32.59" lengthAdjust="spacingAndGlyphs">(ng*h/mL)</text>
<text x="441.50" y="530.49" font-size="7.35" text-anchor="middle" font-weight="normal" fill="#111" stroke="#111" stroke-width="0.34" textLength="32.59" lengthAdjust="spacingAndGlyphs">(ng*h/mL)</text>
<text x="441.50" y="538.72" font-size="7.35" text-anchor="middle" font-weight="normal" fill="#111" stroke="#111" stroke-width="0.34" textLength="16.91" lengthAdjust="spacingAndGlyphs">(min)</text>
<text x="441.50" y="546.95" font-size="7.35" text-anchor="middle" font-weight="normal" fill="#111" stroke="#111" stroke-width="0.34" textLength="23.10" lengthAdjust="spacingAndGlyphs">(1/min)</text>
<text x="353.00" y="555.18" font-size="7.35" text-anchor="middle" font-weight="normal" fill="#111" stroke="#111" stroke-width="0.34" textLength="35.08" lengthAdjust="spacingAndGlyphs">3.06 ± 0.35</text>
<text x="353.00" y="563.41" font-size="7.35" text-anchor="middle" font-weight="normal" fill="#111" stroke="#111" stroke-width="0.34" textLength="35.08" lengthAdjust="spacingAndGlyphs">1.20 ± 0.14</text>
<text x="319.75" y="485.90" font-size="7.30" text-anchor="middle" font-weight="bold" fill="#111" stroke="#111" stroke-width="0.25" textLength="22.00" lengthAdjust="spacingAndGlyphs">Plasma</text>
<text x="390.85" y="485.90" font-size="7.30" text-anchor="middle" font-weight="bold" fill="#111" stroke="#111" stroke-width="0.25" textLength="15.50" lengthAdjust="spacingAndGlyphs">Brain</text>
<line x1="313.60" y1="490.50" x2="327.60" y2="490.50" stroke="#d9401f" stroke-width="0.85"/>
<circle cx="320.60" cy="490.50" r="1.3" fill="#d9401f"/>
<line x1="384.35" y1="490.50" x2="398.35" y2="490.50" stroke="#111" stroke-width="0.85"/>
<circle cx="391.35" cy="490.50" r="1.3" fill="#111"/>
</svg>
</body></html>
